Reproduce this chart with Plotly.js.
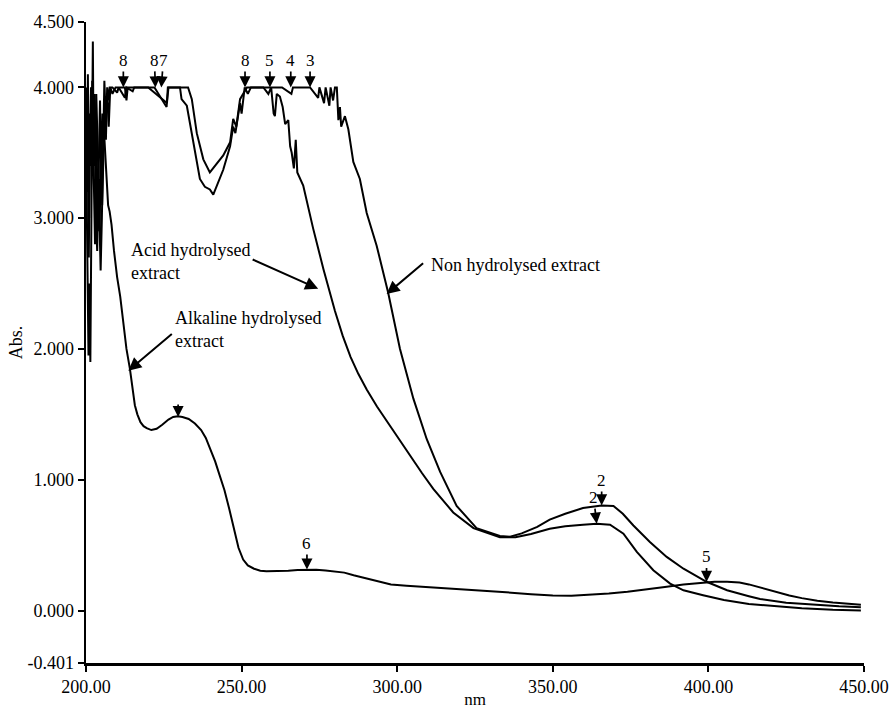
<!DOCTYPE html>
<html><head><meta charset="utf-8">
<script src="https://cdn.plot.ly/plotly-3.0.1.min.js"></script>
<style>html,body{margin:0;padding:0;background:#fff}</style>
</head><body>
<div id="chart" style="width:893px;height:709px"></div>
<script>
// Wavelength (nm) / absorbance readings for each extract
const nonHydX = [200.0,200.3,200.6,201.0,201.3,201.7,202.0,202.4,202.8,203.2,203.6,204.0,204.4,204.8,205.2,205.6,206.0,206.4,206.8,207.2,207.6,208.5,210.0,210.5,212.5,213.0,215.0,215.5,220.0,226.0,226.5,230.2,230.7,232.4,234.5,236.6,238.2,239.8,240.9,242.0,244.1,246.3,247.3,248.0,249.5,250.0,251.0,252.0,253,258,263,266.0,266.5,272,274.6,275,276.5,277,278.2,278.6,279.4,280,280.6,281.1,281.6,282.0,283.2,284.3,285.9,288.0,290.2,293.4,297.1,300.9,305.2,309.5,313.8,319.1,325.5,333,336.3,340,345,349,354,359.7,365.7,369.5,372.5,375.9,381.2,386.6,392,399.4,406,413,416.6,425,435,442,449];
const nonHydY = [3.9,3.2,4.1,3.0,3.8,3.4,4.05,3.6,3.95,3.0,2.75,3.3,2.9,3.7,3.1,3.55,3.85,3.6,4.0,3.9,4.0,4.0,3.96,4.0,3.92,4.0,3.97,4.0,4.0,3.88,4.0,4.0,3.91,3.86,3.58,3.30,3.24,3.22,3.18,3.25,3.37,3.55,3.70,3.65,3.88,3.8,4.0,3.95,4.0,4.0,4.0,3.95,4.0,4.0,3.92,4.0,3.88,4.0,3.86,4.0,3.9,4.0,4.0,3.75,3.85,3.70,3.78,3.68,3.43,3.30,3.04,2.79,2.43,2.0,1.62,1.31,1.06,0.80,0.63,0.57,0.565,0.59,0.64,0.695,0.74,0.784,0.804,0.80,0.74,0.65,0.524,0.41,0.32,0.22,0.155,0.11,0.088,0.06,0.042,0.032,0.025];

const acidX = [200.0,200.2,200.5,200.9,201.2,201.6,202.0,202.4,202.9,203.3,203.8,204.3,204.7,205.1,205.5,205.9,206.3,206.8,207.3,207.8,208.5,209.5,212.5,213,213.4,218,222,225.9,226.3,232.8,234.0,235.6,237.7,239.8,242.0,244.1,246.3,247.3,248.3,249.5,251.7,254,257,258.6,259.5,260.3,260.7,261.3,262.3,263.2,264.0,265.0,265.6,266.1,266.8,267.4,267.9,269.8,271,273,276.3,278,280,282.5,285,287.5,290.2,293.5,296.6,300,304.1,308,311.6,318,324.5,333,338,343,349,354,359.7,364.1,368.4,372.7,377,382.3,387.7,392,398.3,405,413,420,430,440,449];
const acidY = [4.0,3.3,3.7,2.7,3.5,4.0,3.5,3.9,3.4,3.95,3.5,3.1,2.6,3.0,3.63,4.05,3.8,3.95,3.7,4.0,3.95,4.0,4.0,3.9,4.0,4.0,4.0,3.85,4.0,4.0,3.91,3.65,3.45,3.35,3.42,3.48,3.58,3.76,3.7,3.91,4.0,4.0,4.0,3.95,4.0,3.8,3.78,3.95,3.93,3.85,3.72,3.75,3.55,3.50,3.38,3.6,3.35,3.25,3.12,2.92,2.61,2.46,2.29,2.1,1.94,1.81,1.69,1.56,1.45,1.33,1.19,1.05,0.93,0.75,0.63,0.56,0.56,0.585,0.626,0.645,0.656,0.664,0.656,0.588,0.448,0.308,0.206,0.155,0.117,0.08,0.05,0.035,0.018,0.006,0.0];

const alkX = [200.0,200.4,200.8,201.1,201.4,201.8,202.2,202.5,202.9,203.3,203.7,204.1,204.5,204.9,205.3,205.7,206.1,206.6,207.1,207.6,208.2,209.0,210.0,211.0,212,213,214.1,215,215.7,216.5,217.5,218.5,219.5,221,222.7,224.5,226.5,228,229.5,231,233,235,237,238.5,240,241.5,243,244.5,246,247.5,249,250.5,252,254,256,258,261,265,268,271,274,277,280,283,286,290,294,298,303,310,318,326,335,343,350,356,362,368,374,380,386,392,397,402,406,410,413,416,419,422,426,430,435,440,445,449];
const alkY = [3.6,2.6,1.95,2.5,1.9,3.2,4.35,3.3,2.8,3.6,2.9,3.4,3.9,3.3,3.8,3.7,3.55,3.3,3.1,3.05,2.95,2.75,2.55,2.4,2.2,2.0,1.85,1.68,1.57,1.5,1.44,1.41,1.395,1.38,1.39,1.42,1.46,1.48,1.485,1.48,1.465,1.43,1.38,1.32,1.23,1.14,1.03,0.92,0.78,0.62,0.48,0.39,0.345,0.32,0.305,0.3,0.3,0.305,0.31,0.313,0.312,0.307,0.3,0.29,0.27,0.245,0.22,0.2,0.19,0.18,0.168,0.155,0.14,0.125,0.115,0.114,0.12,0.13,0.143,0.16,0.18,0.2,0.212,0.22,0.22,0.214,0.2,0.18,0.16,0.14,0.115,0.095,0.075,0.062,0.052,0.045];

// Peak markers (label, wavelength, absorbance)
const peakLabels = ['8','8','7','8','5','4','3','6','','2','2','5'];
const peakNm     = [212.0,222.3,224.2,251.1,259.1,265.8,272.0,271.0,229.6,365.7,364.1,399.4];
const peakAbs    = [4.0,4.0,4.0,4.0,4.0,4.0,4.0,0.313,1.48,0.804,0.664,0.219];

// Axis ticks
const yTickVals = [-0.401,0,1,2,3,4,4.5];
const yTickText = ['-0.401','0.000','1.000','2.000','3.000','4.000','4.500'];
const xTickVals = [200,250,300,350,400,450];
const xTickText = ['200.00','250.00','300.00','350.00','400.00','450.00'];

const serif = 'Liberation Serif, Times New Roman, serif';
const tickFont = {family: serif, size: 18, color: '#000'};
const lineStyle = {color: '#000', width: 2};

const traces = [
  {x: nonHydX, y: nonHydY, mode: 'lines', line: lineStyle, name: 'Non hydrolysed extract'},
  {x: acidX, y: acidY, mode: 'lines', line: lineStyle, name: 'Acid hydrolysed extract'},
  {x: alkX, y: alkY, mode: 'lines', line: lineStyle, name: 'Alkaline hydrolysed extract'}
];

const annotations = [];
const offs = [-27,-27,-27,-27,-27,-27,-27,-26,-14,-25,-26,-25];
const axs  = [0,-1,2,0,0,0,0,0,0,0,-3,0];
peakLabels.forEach((t, i) => {
  annotations.push({x: peakNm[i], y: peakAbs[i], xref: 'x', yref: 'y', text: t,
    showarrow: true, arrowhead: 2, arrowsize: 1.3, arrowwidth: 1.7, arrowcolor: '#000',
    ax: axs[i], ay: offs[i], font: {family: serif, size: 17, color: '#000'}});
});
// Curve labels
const lblFont = {family: serif, size: 18, color: '#000'};
annotations.push({x: 213.8, y: 2.85, xref: 'x', yref: 'y', xanchor: 'left', yanchor: 'top', align: 'left',
  text: 'Acid hydrolysed<br>extract', showarrow: false, font: lblFont});
annotations.push({x: 228.0, y: 2.33, xref: 'x', yref: 'y', xanchor: 'left', yanchor: 'top', align: 'left',
  text: 'Alkaline hydrolysed<br>extract', showarrow: false, font: lblFont});
annotations.push({x: 310.2, y: 2.64, xref: 'x', yref: 'y', xanchor: 'left', yanchor: 'middle', align: 'left',
  text: 'Non hydrolysed extract', showarrow: false, font: lblFont});
// Pointer arrows
annotations.push({x: 274.6, y: 2.46, xref: 'x', yref: 'y', text: '', showarrow: true, arrowhead: 2,
  arrowsize: 1.3, arrowwidth: 2, arrowcolor: '#000', ax: -67, ay: -30});
annotations.push({x: 213.6, y: 1.834, xref: 'x', yref: 'y', text: '', showarrow: true, arrowhead: 2,
  arrowsize: 1.3, arrowwidth: 2, arrowcolor: '#000', ax: 45, ay: -38});
annotations.push({x: 296.6, y: 2.42, xref: 'x', yref: 'y', text: '', showarrow: true, arrowhead: 2,
  arrowsize: 1.3, arrowwidth: 2, arrowcolor: '#000', ax: 38, ay: -32});

const layout = {
  width: 893, height: 709,
  margin: {l: 86, r: 29, t: 22, b: 46},
  paper_bgcolor: '#fff', plot_bgcolor: '#fff',
  showlegend: false,
  xaxis: {range: [200, 450], showgrid: false, zeroline: false, showline: true, linecolor: '#000', linewidth: 2.5,
    ticks: 'outside', ticklen: 6, tickwidth: 2, tickcolor: '#000', tickvals: xTickVals, ticktext: xTickText,
    tickfont: tickFont, title: {text: 'nm', font: {family: serif, size: 17, color: '#000'}, standoff: 0}},
  yaxis: {range: [-0.401, 4.5], showgrid: false, zeroline: false, showline: true, linecolor: '#000', linewidth: 2.5,
    ticks: 'outside', ticklen: 6, tickwidth: 2, tickcolor: '#000', tickvals: yTickVals, ticktext: yTickText,
    tickfont: tickFont, title: {text: 'Abs.', font: {family: serif, size: 18, color: '#000'}, standoff: 0}},
  annotations: annotations
};

Plotly.newPlot('chart', traces, layout, {staticPlot: true});
</script>
</body></html>
